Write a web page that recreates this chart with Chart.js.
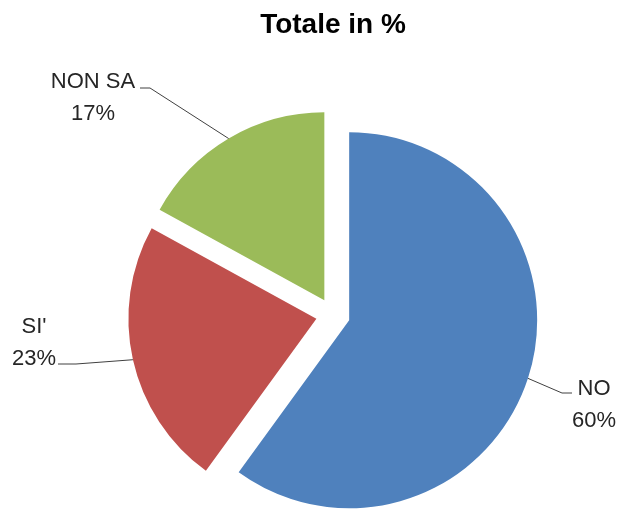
<!DOCTYPE html>
<html><head><meta charset="utf-8">
<script src="https://cdn.jsdelivr.net/npm/chart.js@4/dist/chart.umd.min.js"></script>
<style>html,body{margin:0;padding:0;background:#fff}#wrap{width:622px;height:510px;position:relative}</style>
</head><body><div id="wrap"><canvas id="c" width="622" height="510"></canvas></div>
<script>
const categories = ["NO", "SI'", "NON SA"];
const percentValues = [60, 23, 17];
const sliceColors = ['#4F81BD', '#C0504D', '#9BBB59'];
const chartTitle = 'Totale in %';

// Excel-style explosion: every slice is moved outwards along its mid angle
const EXPLODE = 17;
const baseArcDraw = Chart.ArcElement.prototype.draw;
Chart.ArcElement.prototype.draw = function (ctx) {
  const half = (this.startAngle + this.endAngle) / 2;
  ctx.save();
  ctx.translate(Math.cos(half) * EXPLODE, Math.sin(half) * EXPLODE);
  baseArcDraw.call(this, ctx);
  ctx.restore();
};

const labelLayout = [
  {cx: 594, base1: 395, elbow: [562, 393], end: [572, 393]},
  {cx: 34,  base1: 333, elbow: [76, 364],  end: [58, 364]},
  {cx: 93,  base1: 88,  elbow: [150, 88],  end: [140, 88]}
];

const labelPlugin = {
  id: 'excelLabels',
  afterDatasetsDraw(chart) {
    const ctx = chart.ctx;
    const meta = chart.getDatasetMeta(0);
    const total = percentValues.reduce((a, b) => a + b, 0);
    ctx.save();
    meta.data.forEach((arc, i) => {
      const p = arc.getProps(['x','y','startAngle','endAngle','outerRadius'], true);
      const mid = (p.startAngle + p.endAngle) / 2;
      const ax = p.x + Math.cos(mid) * (EXPLODE + p.outerRadius);
      const ay = p.y + Math.sin(mid) * (EXPLODE + p.outerRadius);
      const L = labelLayout[i];
      ctx.strokeStyle = '#404040';
      ctx.lineWidth = 1;
      ctx.beginPath();
      ctx.moveTo(ax, ay);
      ctx.lineTo(L.elbow[0], L.elbow[1]);
      ctx.lineTo(L.end[0], L.end[1]);
      ctx.stroke();
      ctx.fillStyle = '#262626';
      ctx.font = '22px "Liberation Sans", Arial, sans-serif';
      ctx.textAlign = 'center';
      ctx.textBaseline = 'alphabetic';
      const pct = Math.round(percentValues[i] / total * 100) + '%';
      ctx.fillText(categories[i], L.cx, L.base1);
      ctx.fillText(pct, L.cx, L.base1 + 31.5);
    });
    ctx.fillStyle = '#000';
    ctx.font = 'bold 28px "Liberation Sans", Arial, sans-serif';
    ctx.textAlign = 'center';
    ctx.fillText(chartTitle, 333, 33);
    ctx.restore();
  }
};

new Chart(document.getElementById('c'), {
  type: 'pie',
  data: {
    labels: categories,
    datasets: [{
      data: percentValues,
      backgroundColor: sliceColors,
      borderWidth: 0,
      offset: 0,
      clip: false
    }]
  },
  options: {
    responsive: false,
    animation: false,
    radius: 188,
    layout: {padding: {left: 44, right: 0, top: 120, bottom: 0}},
    plugins: {legend: {display: false}, title: {display: false}, tooltip: {enabled: false}}
  },
  plugins: [labelPlugin]
});
</script>
</body></html>
